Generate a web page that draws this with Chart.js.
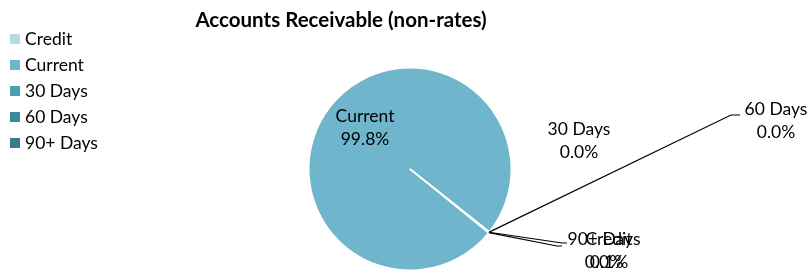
<!DOCTYPE html>
<html>
<head>
<meta charset="utf-8">
<script src="https://cdn.jsdelivr.net/npm/chart.js@4.4.1/dist/chart.umd.min.js"></script>
<style>
  html, body { margin: 0; padding: 0; background: #fff; }
  #wrap { width: 808px; height: 271px; }
</style>
</head>
<body>
<div id="wrap"><canvas id="arChart" width="808" height="271"></canvas></div>
<script>
const categories = ['Credit', 'Current', '30 Days', '60 Days', '90+ Days']
// share of balance, %
const amounts = [0.12, 99.8, 0.04, 0.02, 0.02]
const colors = ['#b9d9e5', '#6fb5cc', '#4a9fb3', '#3c889c', '#3b7b8e']

// where Excel put each data label (text centre) and whether it has a leader line
const labelSpots = [
  { x: 609, y: 239, leader: [[557, 246], [562, 246]] },
  { x: 365, y: 116 },
  { x: 579, y: 129 },
  { x: 776, y: 109, leader: [[731, 115], [740, 115]] },
  { x: 604, y: 239, leader: [[562, 243], [567, 243]] },
]

const FONT = 'Lato, "Open Sans", sans-serif'

const labelPlugin = {
  id: 'excelLabels',
  afterDatasetsDraw(chart) {
    const ctx = chart.ctx
    const meta = chart.getDatasetMeta(0)
    const total = amounts.reduce((a, b) => a + b, 0)
    ctx.save()
    meta.data.forEach((arc, i) => {
      const spot = labelSpots[i]
      const p = arc.getProps(['x', 'y', 'startAngle', 'endAngle', 'outerRadius'], true)
      const mid = (p.startAngle + p.endAngle) / 2
      if (spot.leader) {
        ctx.strokeStyle = '#000'
        ctx.lineWidth = 1.2
        ctx.beginPath()
        ctx.moveTo(p.x + Math.cos(mid) * p.outerRadius, p.y + Math.sin(mid) * p.outerRadius)
        spot.leader.forEach(pt => ctx.lineTo(pt[0], pt[1]))
        ctx.stroke()
      }
      ctx.fillStyle = '#000'
      ctx.font = '17.5px ' + FONT
      ctx.textAlign = 'center'
      ctx.textBaseline = 'middle'
      ctx.fillText(categories[i], spot.x, spot.y)
      ctx.fillText((amounts[i] / total * 100).toFixed(1) + '%', spot.x, spot.y + 23)
    })

    // title
    ctx.font = 'bold 20.5px ' + FONT
    ctx.fillText('Accounts Receivable (non-rates)', 341, 20)

    // legend
    ctx.textAlign = 'left'
    ctx.font = '17.5px ' + FONT
    categories.forEach((c, i) => {
      const y = 39 + i * 26
      ctx.fillStyle = colors[i]
      ctx.fillRect(10, y - 5, 10, 10)
      ctx.fillStyle = '#000'
      ctx.fillText(c, 25, y)
    })
    ctx.restore()
  },
}

new Chart(document.getElementById('arChart'), {
  type: 'pie',
  data: {
    labels: categories,
    datasets: [{
      data: amounts,
      backgroundColor: colors,
      borderColor: '#fff',
      borderWidth: 1.5,
    }],
  },
  options: {
    responsive: false,
    animation: false,
    rotation: 128.7,
    layout: { padding: { left: 307, right: 295, top: 67, bottom: 0 } },
    plugins: {
      legend: { display: false },
      title: { display: false },
      tooltip: { enabled: false },
    },
  },
  plugins: [labelPlugin],
})
</script>
</body>
</html>
